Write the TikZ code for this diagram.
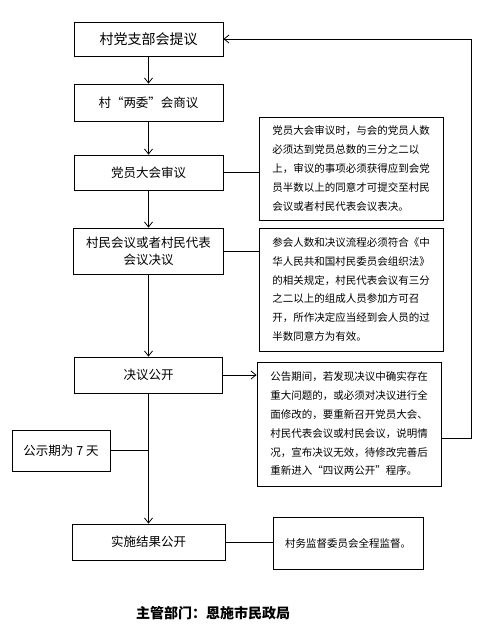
\documentclass[tikz,border=0pt]{standalone}
\usepackage{fontspec}
\setmainfont{Noto Sans CJK SC}
\usetikzlibrary{arrows.meta}
\begin{document}
\begin{tikzpicture}[x=1pt,y=-1pt,
  line width=0.8pt,
  >={Straight Barb[length=5pt,width=8pt,line width=0.8pt]},
  stepbox/.style={draw,inner sep=0pt,font=\fontsize{12.5pt}{17pt}\selectfont,align=center},
  notebox/.style={draw,inner sep=0pt,font=\fontsize{10.5pt}{18.8pt}\selectfont,align=left}]
\useasboundingbox (0,0) rectangle (495,633);
% main column
\node[stepbox,minimum width=149pt,minimum height=34pt,font=\fontsize{14pt}{17pt}\selectfont] (b1) at (148.5,39) {村党支部会提议};
\node[stepbox,minimum width=149pt,minimum height=37pt] (b2) at (148.5,102.5) {村“两委”会商议};
\node[stepbox,minimum width=149pt,minimum height=35pt] (b3) at (148.5,172.5) {党员大会审议};
\node[stepbox,minimum width=150pt,minimum height=46pt] (b4) at (148.5,251) {村民会议或者村民代表\\会议决议};
\node[stepbox,minimum width=148pt,minimum height=36pt] (b5) at (148.5,375) {决议公开};
\node[stepbox,minimum width=98pt,minimum height=41pt] (b6) at (61,450.5) {公示期为 7 天};
\node[stepbox,minimum width=153pt,minimum height=36pt] (b7) at (148.5,542) {实施结果公开};
% notes
\node[notebox,minimum width=184pt,minimum height=103pt] (n1) at (351,168.5) {党员大会审议时，与会的党员人数\\必须达到党员总数的三分之二以\\上，审议的事项必须获得应到会党\\员半数以上的同意才可提交至村民\\会议或者村民代表会议表决。};
\node[notebox,minimum width=184pt,minimum height=123pt] (n2) at (351,289.5) {参会人数和决议流程必须符合《中\\华人民共和国村民委员会组织法》\\的相关规定，村民代表会议有三分\\之二以上的组成人员参加方可召\\开，所作决定应当经到会人员的过\\半数同意方为有效。};
\node[notebox,minimum width=184pt,minimum height=124pt] (n3) at (349,424) {公告期间，若发现决议中确实存在\\重大问题的，或必须对决议进行全\\面修改的，要重新召开党员大会、\\村民代表会议或村民会议，说明情\\况，宣布决议无效，待修改完善后\\重新进入“四议两公开”程序。};
\node[draw,inner sep=0pt,minimum width=150pt,minimum height=52pt,font=\fontsize{10.5pt}{14pt}\selectfont] (n4) at (348,543) {村务监督委员会全程监督。};
% footer
\node[font=\fontsize{14pt}{16pt}\selectfont\bfseries] (ft) at (213,613) {主管部门：恩施市民政局};
% connectors
\draw[->] (b1) -- (b2);
\draw[->] (b2) -- (b3);
\draw[->] (b3) -- (b4);
\draw[->] (b4) -- (b5);
\draw[->] (b5) -- (b7);
\draw (b3.east) -- (b3.east -| n1.west);
\draw (b4.east) -- (b4.east -| n2.west);
\draw[->] (b5.east) -- (b5.east -| n3.west);
\draw (b6.east) -- (b6.east -| b5.south);
\draw (b7.east) -- (b7.east -| n4.west);
\coordinate (rt) at (471,39);
\draw[->] ([yshift=-14pt]n3.east) -| (rt) -- (b1.east);
\end{tikzpicture}
\end{document}
